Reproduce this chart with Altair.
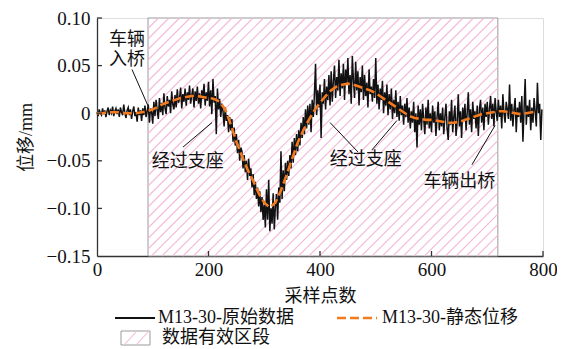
import altair as alt
import pandas as pd

# ---------------- data ----------------
raw_x = list(range(0, 800, 2))
raw_y = [
    0.001, -0.003, 0.004, 0.000, -0.002, 0.005, -0.001, 0.003, -0.004, 0.002,
    0.006, -0.002, 0.003, 0.000, 0.007, -0.003, 0.002, 0.005, -0.001, 0.004,
    -0.004, 0.006, 0.001, -0.002, 0.009, 0.000, -0.005, 0.003, 0.006, -0.002,
    0.004, -0.006, 0.002, 0.007, -0.003, 0.001, -0.009, 0.006, -0.002, 0.003,
    -0.008, 0.005, -0.002, 0.008, -0.004, 0.002, 0.009, -0.010, 0.005, 0.001,
    -0.011, 0.012, -0.003, 0.014, 0.003, -0.006, 0.016, 0.001, 0.011, -0.002,
    0.021, 0.005, -0.001, 0.018, 0.007, 0.014, 0.000, 0.023, 0.009, 0.004,
    0.019, 0.006, 0.025, 0.011, 0.015, 0.027, 0.005, 0.020, 0.012, 0.026,
    0.008, 0.022, 0.014, 0.029, 0.010, 0.019, 0.026, 0.006, 0.023, 0.013,
    0.028, 0.010, 0.021, 0.005, 0.024, 0.015, 0.031, 0.008, 0.022, 0.013,
    0.033, 0.007, 0.024, -0.001, 0.036, 0.011, 0.018, -0.022, 0.026, 0.004,
    0.015, -0.004, 0.010, 0.002, -0.014, 0.006, -0.008, -0.002, -0.020, -0.004,
    -0.018, -0.006, -0.030, -0.015, -0.034, -0.022, -0.042, -0.028, -0.050, -0.036,
    -0.040, -0.058, -0.044, -0.062, -0.050, -0.070, -0.048, -0.066, -0.058, -0.078,
    -0.064, -0.086, -0.072, -0.090, -0.078, -0.098, -0.082, -0.104, -0.088, -0.112,
    -0.096, -0.120, -0.080, -0.112, -0.070, -0.124, -0.100, -0.116, -0.084, -0.122,
    -0.098, -0.085, -0.112, -0.078, -0.094, -0.040, -0.090, -0.060, -0.082, -0.052,
    -0.070, -0.050, -0.066, -0.044, -0.058, -0.030, -0.052, -0.026, -0.044, -0.022,
    -0.040, -0.018, -0.034, -0.010, -0.026, -0.004, -0.022, 0.004, -0.016, 0.008,
    -0.012, 0.010, -0.020, 0.014, -0.004, 0.020, 0.052, -0.002, 0.024, 0.006,
    0.030, -0.026, 0.022, 0.010, 0.036, 0.004, 0.028, 0.014, 0.040, 0.008,
    0.044, 0.012, 0.034, 0.050, 0.016, 0.038, 0.024, 0.056, 0.018, 0.042,
    0.026, 0.052, 0.014, 0.046, 0.030, 0.058, 0.020, 0.040, 0.010, 0.060,
    0.034, 0.016, 0.054, 0.024, 0.044, 0.008, 0.038, 0.022, 0.050, 0.014,
    0.040, 0.018, 0.032, 0.006, 0.046, 0.020, 0.028, 0.012, 0.036, 0.016,
    0.058, 0.010, 0.030, 0.004, 0.026, 0.014, 0.034, 0.000, 0.022, 0.008,
    0.030, -0.002, 0.020, 0.004, 0.026, -0.006, 0.014, 0.000, 0.024, -0.004,
    0.012, -0.008, 0.018, -0.002, 0.008, -0.012, 0.010, -0.004, 0.016, -0.010,
    0.006, -0.016, 0.002, -0.010, 0.012, -0.020, 0.000, -0.036, 0.008, -0.012,
    0.004, -0.018, 0.010, -0.006, -0.022, 0.006, -0.012, 0.014, -0.016, 0.000,
    -0.020, 0.008, -0.010, 0.002, -0.024, -0.004, 0.012, -0.018, 0.000, -0.014,
    0.006, -0.022, -0.004, 0.010, -0.016, -0.028, 0.002, -0.012, 0.014, -0.020,
    -0.004, 0.008, -0.024, -0.010, 0.020, -0.014, 0.002, -0.026, 0.006, -0.008,
    0.010, -0.018, 0.000, 0.022, -0.012, 0.004, -0.020, 0.012, -0.006, 0.002,
    -0.016, 0.008, -0.024, 0.004, 0.014, -0.010, 0.006, -0.018, 0.010, -0.004,
    0.012, -0.012, 0.004, 0.018, -0.006, 0.010, -0.014, 0.016, 0.002, -0.008,
    0.014, -0.004, 0.008, -0.016, 0.020, 0.000, -0.010, 0.012, 0.004, -0.006,
    0.030, -0.008, 0.010, -0.014, 0.004, 0.016, -0.020, 0.006, -0.004, 0.012,
    -0.010, 0.018, -0.030, 0.004, 0.036, -0.012, 0.008, -0.004, 0.014, -0.018,
    0.006, -0.010, 0.016, 0.002, -0.014, 0.032, 0.000, 0.010, -0.028, 0.004,
]

static_x = list(range(0, 800, 10))
static_y = [
    0.000, 0.000, 0.001, 0.001, 0.001, 0.000, 0.000, 0.000, 0.001, 0.002,
    0.004, 0.007, 0.010, 0.012, 0.014, 0.016, 0.017, 0.018, 0.018, 0.017,
    0.016, 0.015, 0.012, 0.004, -0.012, -0.030, -0.045, -0.059, -0.071, -0.084,
    -0.094, -0.099, -0.094, -0.081, -0.065, -0.048, -0.031, -0.018, -0.007, 0.003,
    0.011, 0.018, 0.024, 0.028, 0.030, 0.031, 0.030, 0.028, 0.026, 0.024,
    0.021, 0.017, 0.013, 0.009, 0.005, 0.001, -0.003, -0.005, -0.006, -0.007,
    -0.007, -0.008, -0.009, -0.010, -0.010, -0.009, -0.007, -0.005, -0.003, -0.001,
    0.000, 0.001, 0.002, 0.002, 0.001, 0.000, -0.001, 0.000, 0.001, 0.002,
]

valid_start, valid_end = 91.5, 719

x_ticks = [0, 200, 400, 600, 800]
y_ticks = [-0.15, -0.10, -0.05, 0, 0.05, 0.10]

ann_text = ["车辆", "入桥", "经过支座", "经过支座", "车辆出桥"]
ann_tx = [54, 54, 163, 482, 650]
ann_ty = [0.0768, 0.0562, -0.0510, -0.0490, -0.0727]
lead_x1 = [62.8, 154.3, 468, 493, 672.6]
lead_y1 = [0.0459, -0.0356, -0.0407, -0.0387, -0.0541]
lead_x2 = [91.5, 206.3, 418, 538, 714]
lead_y2 = [0.0077, -0.0098, -0.0098, -0.0077, -0.0129]

legend_labels = ["M13-30-原始数据", "M13-30-静态位移", "数据有效区段"]

# ---------------- layout ----------------
W, H = 446, 238
XMIN, XMAX = 0, 800
YMIN, YMAX = -0.15, 0.10
FONT = "Liberation Serif, Noto Sans CJK SC"
PINK = "#f4b9da"
ORANGE = "#f27a1f"

# hatch lines (45 degrees in screen space) clipped to the valid region
kx = W / (XMAX - XMIN)
ky = H / (YMAX - YMIN)
X0, X1 = (valid_start - XMIN) * kx, (valid_end - XMIN) * kx
step = 10.5
hatch = []
c = X0 - H
while c < X1:
    lo = max(X0, c)
    hi = min(X1, c + H)
    if hi > lo:
        hatch.append({
            "x": lo / kx + XMIN, "y": (lo - c) / ky + YMIN,
            "x2": hi / kx + XMIN, "y2": (hi - c) / ky + YMIN,
        })
    c += step
hatch_df = pd.DataFrame(hatch)

raw_df = pd.DataFrame({"x": raw_x, "y": raw_y})
static_df = pd.DataFrame({"x": static_x, "y": static_y})
region_df = pd.DataFrame({"x": [valid_start], "x2": [valid_end], "y": [YMIN], "y2": [YMAX]})
ann_df = pd.DataFrame({"t": ann_text, "x": ann_tx, "y": ann_ty})
lead_df = pd.DataFrame({"x": lead_x1, "y": lead_y1, "x2": lead_x2, "y2": lead_y2})

xs = alt.Scale(domain=[XMIN, XMAX], nice=False, zero=False)
ys = alt.Scale(domain=[YMIN, YMAX], nice=False, zero=False)

xaxis = alt.Axis(values=x_ticks, format="d", title="采样点数", ticks=False, grid=False,
                 labelFont=FONT, labelFontSize=19, labelColor="#111", labelPadding=4,
                 titleFont=FONT, titleFontSize=18, titleFontWeight="normal", titleColor="#111",
                 titlePadding=8, domainColor="#333", domainWidth=1.3, labelFlush=False)
yaxis = alt.Axis(values=y_ticks, title="位移/mm", ticks=False, grid=False,
                 labelExpr="datum.value == 0 ? '0' : format(datum.value, '.2f')",
                 labelFont=FONT, labelFontSize=19, labelColor="#111", labelPadding=7,
                 titleFont=FONT, titleFontSize=18, titleFontWeight="normal", titleColor="#111",
                 titlePadding=11, domainColor="#333", domainWidth=1.3, labelFlush=False)


def X(f="x"):
    return alt.X(f, type="quantitative", scale=xs, axis=xaxis)


def Y(f="y"):
    return alt.Y(f, type="quantitative", scale=ys, axis=yaxis)


region = alt.Chart(region_df).mark_rect(fill="white", stroke="#9a9a9a", strokeWidth=1).encode(
    x=X(), x2="x2", y=Y(), y2="y2")

hatch_layer = alt.Chart(hatch_df).mark_rule(color=PINK, strokeWidth=1.1).encode(
    x=X(), y=Y(), x2="x2", y2="y2")

raw_line = alt.Chart(raw_df).mark_line(color="#111", strokeWidth=1.5).encode(x=X(), y=Y())
static_line = alt.Chart(static_df).mark_line(
    color=ORANGE, strokeWidth=2.6, strokeDash=[9, 4]).encode(x=X(), y=Y())

leaders = alt.Chart(lead_df).mark_rule(color="#111", strokeWidth=1).encode(
    x=X(), y=Y(), x2="x2", y2="y2")
ann = alt.Chart(ann_df).mark_text(font=FONT, fontSize=18, color="#111",
                                  align="center", baseline="middle").encode(
    x=X(), y=Y(), text="t")

# inward tick marks
xt_df = pd.DataFrame({"x": x_ticks[1:]})
yt_df = pd.DataFrame({"y": y_ticks[1:]})
xtick = alt.Chart(xt_df).mark_rule(color="#333", strokeWidth=1.3).encode(
    x=X(), y=alt.value(H), y2=alt.value(H - 5))
ytick = alt.Chart(yt_df).mark_rule(color="#333", strokeWidth=1.3).encode(
    y=Y(), x=alt.value(0), x2=alt.value(5))

# legend (drawn below the plot)
one = pd.DataFrame({"a": [0]})
LY1 = H + 62
LY2 = H + 82
leg_black = alt.Chart(one).mark_rule(color="#111", strokeWidth=2).encode(
    x=alt.value(18), x2=alt.value(58), y=alt.value(LY1))
leg_orange = alt.Chart(one).mark_rule(color=ORANGE, strokeWidth=2.6, strokeDash=[9, 4]).encode(
    x=alt.value(240), x2=alt.value(280), y=alt.value(LY1))
leg_box = alt.Chart(one).mark_rect(fill="white", stroke="#9a9a9a", strokeWidth=1).encode(
    x=alt.value(24), x2=alt.value(53), y=alt.value(LY2 - 7), y2=alt.value(LY2 + 7))
leg_hatch = alt.Chart(one).mark_rule(color=PINK, strokeWidth=1.1).encode(
    x=alt.value(27), x2=alt.value(40), y=alt.value(LY2 + 7), y2=alt.value(LY2 - 7))
leg_hatch2 = alt.Chart(one).mark_rule(color=PINK, strokeWidth=1.1).encode(
    x=alt.value(39), x2=alt.value(52), y=alt.value(LY2 + 7), y2=alt.value(LY2 - 7))
leg_t1 = alt.Chart(one).mark_text(font=FONT, fontSize=18, color="#111", align="left",
                                  baseline="middle", text=legend_labels[0]).encode(
    x=alt.value(61), y=alt.value(LY1))
leg_t2 = alt.Chart(one).mark_text(font=FONT, fontSize=18, color="#111", align="left",
                                  baseline="middle", text=legend_labels[1]).encode(
    x=alt.value(285), y=alt.value(LY1))
leg_t3 = alt.Chart(one).mark_text(font=FONT, fontSize=18, color="#111", align="left",
                                  baseline="middle", text=legend_labels[2]).encode(
    x=alt.value(65), y=alt.value(LY2))

chart = alt.layer(
    region, hatch_layer, raw_line, static_line, leaders, ann, xtick, ytick,
    leg_black, leg_orange, leg_box, leg_hatch, leg_hatch2, leg_t1, leg_t2, leg_t3,
).properties(
    width=W, height=H,
    autosize=alt.AutoSizeParams(type="none"),
    padding={"left": 89, "top": 10, "right": 14, "bottom": 92},
).configure_view(stroke=None).configure(background="white")

chart.save("out.html", embed_options={"renderer": "svg", "actions": False})
